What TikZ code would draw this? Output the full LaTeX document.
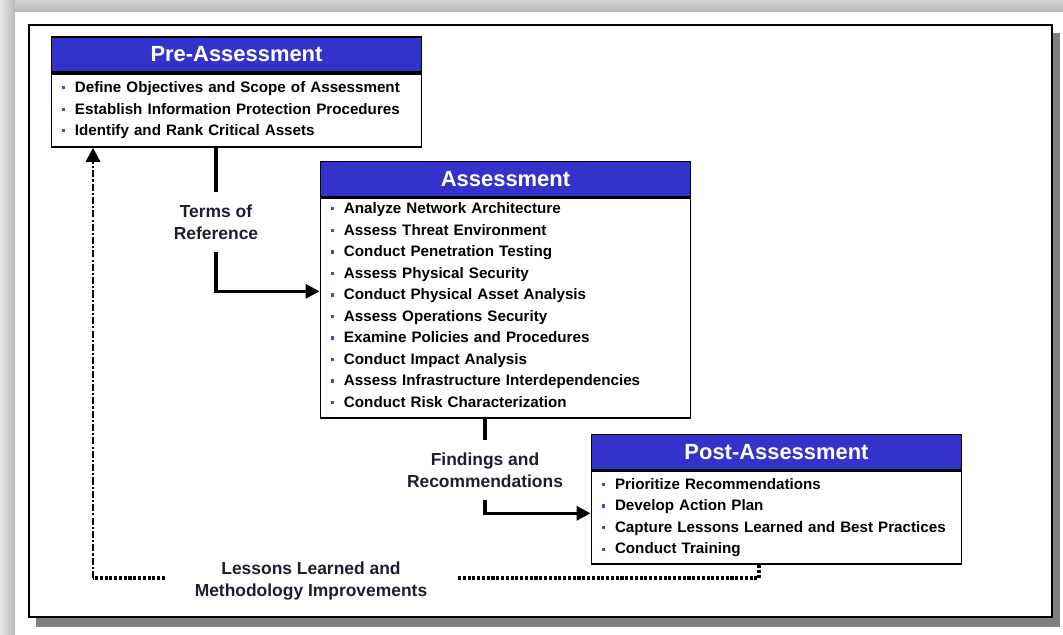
\documentclass[tikz,border=0pt]{standalone}
\usepackage{fontspec}
\setmainfont{Liberation Sans}
\usetikzlibrary{positioning,arrows.meta}
\definecolor{headblue}{RGB}{51,51,204}
\definecolor{dotblue}{RGB}{70,70,200}
\definecolor{labelink}{RGB}{30,30,50}
\newcommand{\itm}[1]{\textcolor{dotblue}{\rule[2.4pt]{2.2pt}{2.2pt}}\hspace{7.4pt}#1}

\begin{document}
\begin{tikzpicture}[
  head/.style={draw=black, line width=1.3pt, fill=headblue, minimum width=9.25cm, minimum height=0.875cm, inner sep=0pt, font=\fontsize{15.6}{18}\selectfont\bfseries, text=white},
  body/.style={draw=black, line width=1.3pt, fill=white, minimum width=9.25cm, text width=8.75cm, inner xsep=0.25cm, inner ysep=0pt, align=left, font=\fontsize{10.8}{15.3}\selectfont\bfseries},
  lbl/.style={font=\fontsize{12.4}{15.6}\selectfont\bfseries, text=labelink, align=center, inner ysep=8.5pt},
  link/.style={line width=2.2pt},
  arrow/.style={-{Triangle[length=10pt,width=10pt]}, line width=2.2pt},
  dotlink/.style={line width=2.6pt, dash pattern=on 2.2pt off 1.2pt},
  dashdotlink/.style={-{Triangle[length=10pt,width=10pt]}, line width=2pt, dash pattern=on 5pt off 1.5pt on 1.5pt off 1.5pt},
]
\useasboundingbox (0,0) rectangle (26.575,15.875);
% Page edge and frame
\shade[top color=gray!35, bottom color=gray!55] (0,15.575) rectangle (26.575,15.875);
\shade[left color=gray!20, right color=gray!55] (0,0) rectangle (0.375,15.875);
\fill[black!50] (0.9,0.2) rectangle (26.5,15.05);
\draw[fill=white, line width=1.4pt] (0.725,0.45) rectangle (26.3,15.25);

% Pre-Assessment
\node[head] (preh) at (5.9125,14.5125) {Pre-Assessment};
\node[body, minimum height=1.825cm, below=0pt of preh] (preb) {\itm{Define Objectives and Scope of Assessment}\\
\itm{Establish Information Protection Procedures}\\
\itm{Identify and Rank Critical Assets}};

% Assessment
\node[head] (assh) at (12.6375,11.4) {Assessment};
\node[body, minimum height=5.5cm, below=0pt of assh] (assb) {\itm{Analyze Network Architecture}\\
\itm{Assess Threat Environment}\\
\itm{Conduct Penetration Testing}\\
\itm{Assess Physical Security}\\
\itm{Conduct Physical Asset Analysis}\\
\itm{Assess Operations Security}\\
\itm{Examine Policies and Procedures}\\
\itm{Conduct Impact Analysis}\\
\itm{Assess Infrastructure Interdependencies}\\
\itm{Conduct Risk Characterization}\rule[-4.5pt]{0pt}{4.5pt}};

% Post-Assessment
\node[head] (posth) at (19.4125,4.575) {Post-Assessment};
\node[body, minimum height=2.325cm, below=0pt of posth] (postb) {\itm{Prioritize Recommendations}\\
\itm{Develop Action Plan}\\
\itm{Capture Lessons Learned and Best Practices}\\
\itm{Conduct Training}};

% Labels
\node[lbl] (tor) at (5.4,10.325) {Terms of\\Reference};
\node[lbl] (find) at (12.125,4.125) {Findings and\\Recommendations};
\node[lbl, inner xsep=21pt] (lessons) at (7.775,1.35) {Lessons Learned and\\Methodology Improvements};
\coordinate (fbr) at (18.975,1.425);
\coordinate (fbl) at (2.325,1.425);

% Connectors
\draw[link] (preb.south -| tor) -- (tor.north);
\draw[arrow] (tor.south) |- ([yshift=0.425cm]assb.west);
\draw[link] (assb.south -| find) -- (find.north);
\draw[arrow] (find.south) |- ([yshift=0.1125cm]postb.west);
\draw[dotlink] (postb.south -| fbr) -- (fbr) -- (fbr -| lessons.east);
\draw[dotlink] (fbl -| lessons.west) -- (fbl);
\draw[dashdotlink] (fbl) -- (preb.south -| fbl);
\end{tikzpicture}
\end{document}
